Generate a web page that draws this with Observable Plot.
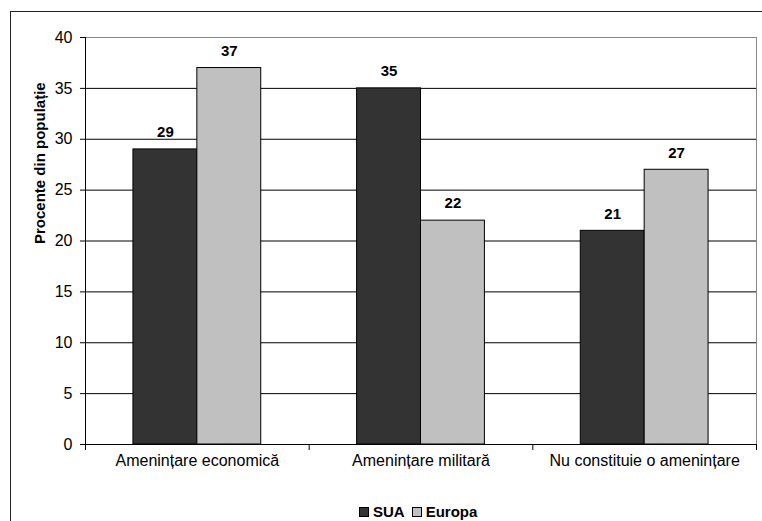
<!DOCTYPE html>
<html>
<head>
<meta charset="utf-8">
<script src="https://cdn.jsdelivr.net/npm/d3@7"></script>
<script src="https://cdn.jsdelivr.net/npm/@observablehq/plot@0.6"></script>
<style>
  html, body { margin: 0; padding: 0; background: #fff; overflow: hidden; }
  #wrap { position: relative; width: 762px; height: 521px; }
  #frame { position: absolute; left: 10px; top: 11px; width: 900px; height: 700px;
           border-top: 1px solid #222; border-left: 1px solid #222; pointer-events: none; z-index: 2; }
  #legend { position: absolute; left: 359px; top: 503px; display: flex; align-items: center;
            font-family: "Liberation Sans", Arial, sans-serif; font-weight: bold; font-size: 15px; color: #000; }
  #legend .sw { display: inline-block; width: 8px; height: 8px; border: 1px solid #000; margin-right: 4px; }
  #legend .item { display: flex; align-items: center; margin-right: 7px; }
</style>
</head>
<body>
<div id="wrap">
  <div id="frame"></div>
  <div id="chart"></div>
  <div id="legend"></div>
</div>
<script>
// Survey answers: share of the population (%) per answer, for the USA and Europe
const categories = ["Amenințare economică", "Amenințare militară", "Nu constituie o amenințare"];
const series = ["SUA", "Europa"];
const sua = [29, 35, 21];
const europa = [37, 22, 27];
const colors = ["#333333", "#c0c0c0"];
const yTicks = [0, 5, 10, 15, 20, 25, 30, 35, 40];
const gridLines = [5, 10, 15, 20, 25, 30, 35];

// Each category occupies one unit on x; the pair of bars fills 4/7 of it, centred.
const barW = 2 / 7;
const groupPad = (1 - 2 * barW) / 2;
const rows = categories.flatMap((cat, i) => [
  {cat, i, s: 0, series: series[0], value: sua[i]},
  {cat, i, s: 1, series: series[1], value: europa[i]}
]);
const left = d => d.i + groupPad + d.s * barW;

const chart = Plot.plot({
  width: 762,
  height: 495,
  marginLeft: 85,
  marginTop: 37,
  marginRight: 6,
  marginBottom: 51,
  style: {fontFamily: "'Liberation Sans', Arial, sans-serif", fontSize: "16px", color: "#000", background: "transparent"},
  x: {domain: [0, categories.length], ticks: d3.range(categories.length + 1), tickFormat: () => "", tickSize: 6, label: null},
  y: {domain: [0, 40], ticks: yTicks, tickSize: 5, tickPadding: 8, label: null},
  color: {domain: series, range: colors},
  marks: [
    Plot.ruleY(gridLines, {stroke: "#000", strokeWidth: 1}),
    Plot.ruleY([40], {stroke: "#888"}),
    Plot.ruleX([categories.length], {stroke: "#888"}),
    Plot.rectY(rows, {
      x1: left,
      x2: d => left(d) + barW,
      y: "value",
      fill: "series",
      stroke: "#000",
      strokeWidth: 1
    }),
    Plot.ruleX([0], {stroke: "#000"}),
    Plot.ruleY([0], {stroke: "#000"}),
    Plot.text(rows, {
      x: d => left(d) + barW / 2,
      y: "value",
      text: d => String(d.value),
      dy: -17,
      fontWeight: "bold",
      fontSize: 15
    }),
    Plot.text(categories, {
      x: (d, i) => i + 0.5,
      frameAnchor: "bottom",
      lineAnchor: "top",
      dy: 10,
      fontSize: 16
    }),
    Plot.text(["Procente din populație"], {
      frameAnchor: "left",
      rotate: -90,
      dx: -45,
      dy: 3,
      fontWeight: "bold",
      fontSize: 15
    })
  ]
});
document.getElementById("chart").appendChild(chart);

// Legend swatches below the chart
const legend = document.getElementById("legend");
series.forEach((name, k) => {
  const item = document.createElement("span");
  item.className = "item";
  const sw = document.createElement("span");
  sw.className = "sw";
  sw.style.background = colors[k];
  item.appendChild(sw);
  item.appendChild(document.createTextNode(name));
  legend.appendChild(item);
});
</script>
</body>
</html>
